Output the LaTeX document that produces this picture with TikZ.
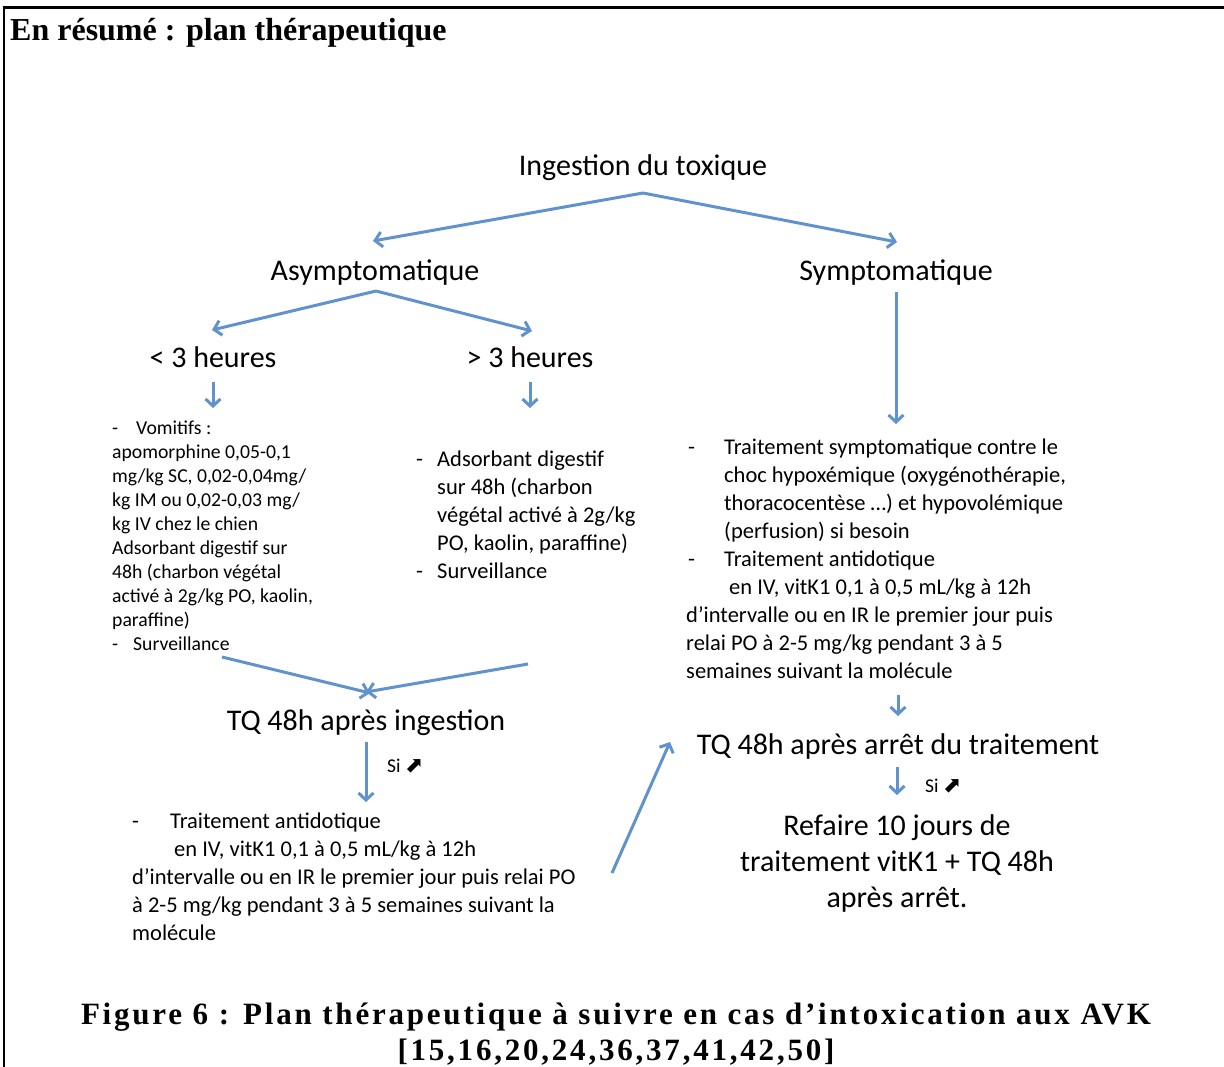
\documentclass[tikz,border=0pt]{standalone}
\usepackage{fontspec}
\setmainfont{Carlito}
\newfontfamily\tnr{Liberation Serif}
\newfontfamily\tnrsp[LetterSpace=9]{Liberation Serif}
\newfontfamily\djv{DejaVu Sans}
\usetikzlibrary{arrows.meta}
\definecolor{arrowblue}{RGB}{96,146,206}
\newcommand{\uparr}{{\djv\fontsize{22}{22}\selectfont ⬈}}
\begin{document}
\begin{tikzpicture}[x=1pt,y=-1pt,
  flow/.style={draw=arrowblue, line width=3pt, -{Straight Barb[length=7pt,width=15pt]}},
  big/.style={inner sep=0pt, anchor=base, font=\fontsize{30}{36}\selectfont},
  blocktxt/.style={inner sep=0pt, anchor=base west, align=left, font=\fontsize{22.5}{28}\selectfont},
  smalltxt/.style={inner sep=0pt, anchor=base west, align=left, font=\fontsize{19.7}{24}\selectfont},
  sitxt/.style={inner sep=0pt, anchor=base west, font=\fontsize{19.5}{22}\selectfont},
  framestyle/.style={line width=2.5pt, line cap=rect}]
\useasboundingbox (0,0) rectangle (1224,1066);
% frame
\coordinate (fTL) at (4,7.5);
\coordinate (fTR) at (1224,7.5);
\coordinate (fBL) at (4,1066);
\draw[framestyle] (fTR) -- (fTL) -- (fBL);
% title
\node[inner sep=0pt, anchor=base west, font=\tnr\bfseries\fontsize{32}{36}\selectfont] (title) at (10,40) {En résumé : plan thérapeutique};
% main nodes
\node[big] (ing) at (643,175) {Ingestion du toxique};
\node[big] (asym) at (375,280) {Asymptomatique};
\node[big] (sym) at (896,280) {Symptomatique};
\node[big] (lt3) at (213,367) {< 3 heures};
\node[big] (gt3) at (530,367) {> 3 heures};
% multi-line nodes: base anchor = baseline of last line
\node[smalltxt] (vom) at (112,650) {\makebox[24pt][l]{-}Vomitifs :\\
apomorphine 0,05-0,1\\
mg/kg SC, 0,02-0,04mg/\\
kg IM ou 0,02-0,03 mg/\\
kg IV chez le chien\\
Adsorbant digestif sur\\
48h (charbon végétal\\
activé à 2g/kg PO, kaolin,\\
paraffine)\\
\makebox[21pt][l]{-}Surveillance};
\node[blocktxt] (ads) at (416,578) {\makebox[21pt][l]{-}Adsorbant digestif\\
\hspace*{21pt}sur 48h (charbon\\
\hspace*{21pt}végétal activé à 2g/kg\\
\hspace*{21pt}PO, kaolin, paraffine)\\
\makebox[21pt][l]{-}Surveillance};
\node[blocktxt] (symtr) at (686,678) {\makebox[38pt][l]{\hspace{2pt}-}Traitement symptomatique contre le\\
\hspace*{38pt}choc hypoxémique (oxygénothérapie,\\
\hspace*{38pt}thoracocentèse …) et hypovolémique\\
\hspace*{38pt}(perfusion) si besoin\\
\makebox[38pt][l]{\hspace{2pt}-}Traitement antidotique\\
\hspace*{43pt}en IV, vitK1 0,1 à 0,5 mL/kg à 12h\\
d’intervalle ou en IR le premier jour puis\\
relai PO à 2-5 mg/kg pendant 3 à 5\\
semaines suivant la molécule};
\node[big] (tq1) at (366,730) {TQ 48h après ingestion};
\node[sitxt] (si1) at (387,772) {Si \uparr};
\node[blocktxt] (anti) at (132,940) {\makebox[38pt][l]{-}Traitement antidotique\\
\hspace*{42pt}en IV, vitK1 0,1 à 0,5 mL/kg à 12h\\
d’intervalle ou en IR le premier jour puis relai PO\\
à 2-5 mg/kg pendant 3 à 5 semaines suivant la\\
molécule};
\node[big] (tq2) at (898,754) {TQ 48h après arrêt du traitement};
\node[sitxt] (si2) at (925,792) {Si \uparr};
\node[big, align=center] (refaire) at (897,907) {Refaire 10 jours de\\traitement vitK1 + TQ 48h\\après arrêt.};
\node[inner sep=0pt, anchor=base, align=center, font=\tnrsp\bfseries\fontsize{31}{36}\selectfont] (caption) at (616,1060) {Figure 6 : Plan thérapeutique à suivre en cas d’intoxication aux AVK\\{[15,16,20,24,36,37,41,42,50]}};
% connector end points
\coordinate (ingout) at (643,193);
\coordinate (asymin) at (373,241);
\coordinate (symin) at (897,242);
\coordinate (asymout) at (376,291);
\coordinate (lt3in) at (212,330);
\coordinate (gt3in) at (532,331);
\coordinate (symout) at (896,292);
\coordinate (symtrin) at (896,424);
\coordinate (lt3out) at (213,382);
\coordinate (vomin) at (213,408);
\coordinate (gt3out) at (530,382);
\coordinate (adsin) at (530,408);
\coordinate (vomout) at (222,657);
\coordinate (adsout) at (528,664);
\coordinate (tqAin) at (370,693);
\coordinate (tqBin) at (366,692);
\coordinate (tq1out) at (366,742);
\coordinate (antiin) at (366,802);
\coordinate (antiout) at (612,873);
\coordinate (tq2inA) at (670,742);
\coordinate (symtrout) at (898,695);
\coordinate (tq2inB) at (898,716);
\coordinate (tq2out) at (897,767);
\coordinate (refin) at (897,795);
% connectors
\draw[flow] (ingout) -- (asymin);
\draw[flow] (ingout) -- (symin);
\draw[flow] (asymout) -- (lt3in);
\draw[flow] (asymout) -- (gt3in);
\draw[flow] (symout) -- (symtrin);
\draw[flow] (lt3out) -- (vomin);
\draw[flow] (gt3out) -- (adsin);
\draw[flow] (vomout) -- (tqAin);
\draw[flow] (adsout) -- (tqBin);
\draw[flow] (tq1out) -- (antiin);
\draw[flow] (antiout) -- (tq2inA);
\draw[flow] (symtrout) -- (tq2inB);
\draw[flow] (tq2out) -- (refin);
\end{tikzpicture}
\end{document}
